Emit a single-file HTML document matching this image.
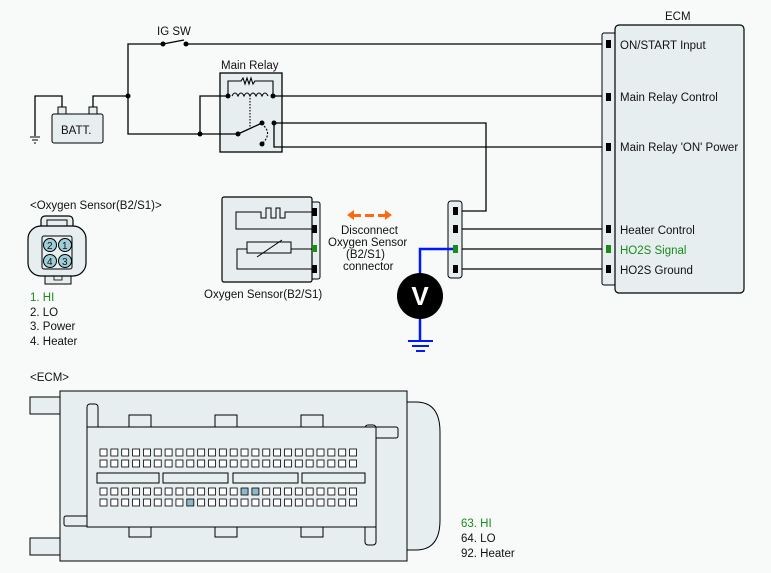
<!DOCTYPE html>
<html><head><meta charset="utf-8"><style>
html,body{margin:0;padding:0;background:#f8fafa}
svg{display:block}
text{font-family:"Liberation Sans",sans-serif;font-size:11.5px;fill:#111}
</style></head><body>
<svg id="s" width="771" height="573" viewBox="0 0 771 573" xmlns="http://www.w3.org/2000/svg">
<rect width="771" height="573" fill="#f8fafa"/>
<!-- relay box first -->
<text x="221" y="69">Main Relay</text>
<rect x="220" y="73" width="62" height="79" fill="#e6eef0" stroke="#000" stroke-width="1.3"/>
<g stroke="#000" stroke-width="1.3" fill="none">
<polyline points="128,96 128,44 163,44"/>
<line x1="163" y1="44" x2="184" y2="40"/>
<line x1="186" y1="44" x2="606" y2="44"/>
<polyline points="93,108 93,96 128,96 128,134 238,134"/>
<polyline points="200,134 200,96 228,96"/>
<polyline points="272,96 606,96"/>
<polyline points="62,108 62,96 35,96 35,136"/>
<line x1="238" y1="134" x2="262" y2="123"/>
<polyline points="274,123 486,123 486,211 455,211"/>
<polyline points="274,123 274,147 606,147"/>
<line x1="455" y1="229" x2="606" y2="229"/>
<line x1="455" y1="249" x2="606" y2="249"/>
<line x1="455" y1="269" x2="606" y2="269"/>
</g>
<g fill="#000">
<circle cx="128" cy="96" r="2.5"/><circle cx="163" cy="44" r="2.5"/><circle cx="186" cy="44" r="2.5"/>
<circle cx="200" cy="134" r="2.5"/>
</g>
<g stroke="#000" stroke-width="1"><line x1="30" y1="137" x2="40" y2="137"/><line x1="32" y1="140" x2="38" y2="140"/><line x1="34" y1="143" x2="36" y2="143"/></g>
<rect x="52" y="114" width="51" height="29" rx="2" fill="#e6eef0" stroke="#000"/>
<rect x="58" y="107" width="8" height="7" fill="#e6eef0" stroke="#000"/>
<rect x="89" y="107" width="8" height="7" fill="#e6eef0" stroke="#000"/>
<text x="61" y="134">BATT.</text>
<text x="157" y="35">IG SW</text>
<g stroke="#000" stroke-width="1.1" fill="none">
<polyline points="228,96 228,81 241,81 243,78 245,84 247,78 249,84 251,78 253,84 255,81 273,81 273,96"/>
<path d="M232,96 q3,-6 6,0 q3,-6 6,0 q3,-6 6,0 q3,-6 6,0 q3,-6 6,0 q3,-6 6,0"/>
<line x1="250" y1="98" x2="250" y2="128" stroke-dasharray="1.5,1.5"/>
<path d="M264,126 q8,8 -2,18" stroke-dasharray="2,1.5"/>
</g>
<g fill="#000"><circle cx="228" cy="96" r="2.5"/><circle cx="273" cy="96" r="2.5"/><circle cx="238" cy="134" r="2.5"/><circle cx="262" cy="123" r="2.5"/><circle cx="274" cy="123" r="2.5"/><circle cx="262" cy="144" r="2.5"/></g>
<!-- ECM -->
<text x="665" y="20">ECM</text>
<rect x="602" y="33" width="14" height="252" rx="2" fill="#e6eef0" stroke="#000"/>
<rect x="615" y="25" width="129" height="268" rx="4" fill="#e6eef0" stroke="#000" stroke-width="1.2"/>
<g fill="#000"><rect x="606" y="40" width="5" height="8"/><rect x="606" y="93" width="5" height="8"/><rect x="606" y="143" width="5" height="8"/><rect x="606" y="225" width="5" height="8"/><rect x="606" y="265" width="5" height="8"/></g>
<rect x="606" y="245" width="5" height="8" fill="#1a8a1a"/>
<text x="620" y="49">ON/START Input</text>
<text x="620" y="101">Main Relay Control</text>
<text x="620" y="151">Main Relay 'ON' Power</text>
<text x="620" y="234">Heater Control</text>
<text x="620" y="254" style="fill:#1a8a1a">HO2S  Signal</text>
<text x="620" y="274">HO2S  Ground</text>
<rect x="448" y="201" width="14" height="77" rx="3" fill="#e6eef0" stroke="#000"/>
<g fill="#000"><rect x="453" y="207" width="5" height="8"/><rect x="453" y="225" width="5" height="8"/><rect x="453" y="265" width="5" height="8"/></g>
<rect x="453" y="245" width="5" height="8" fill="#1a8a1a"/>
<polyline points="453,249 420,249 420,275" stroke="#0018ff" stroke-width="2.5" fill="none"/>
<line x1="420" y1="318" x2="420" y2="341" stroke="#0018ff" stroke-width="2.5"/>
<g stroke="#0018ff" stroke-width="2"><line x1="408" y1="341" x2="433" y2="341"/><line x1="412" y1="346" x2="429" y2="346"/><line x1="416" y1="351" x2="425" y2="351"/></g>
<circle cx="420" cy="296" r="23" fill="#000"/>
<text x="420" y="305" text-anchor="middle" style="font-size:26px;font-weight:bold;fill:#fff">V</text>
<!-- oxygen sensor -->
<rect x="311" y="202" width="9" height="77" rx="2" fill="#e6eef0" stroke="#000"/>
<rect x="222" y="197" width="90" height="85" rx="2" fill="#e6eef0" stroke="#000" stroke-width="1.2"/>
<g fill="#000"><rect x="312" y="208" width="5" height="8"/><rect x="312" y="225" width="5" height="8"/><rect x="312" y="265" width="5" height="8"/></g>
<rect x="312" y="245" width="5" height="7" fill="#1a8a1a"/>
<g stroke="#000" stroke-width="1" fill="none">
<polyline points="312,212 285,212 285,218 280,218 280,208 276,208 276,218 271,218 271,208 266,208 266,218 261,218 261,212 236,212 236,229 312,229"/>
<polyline points="312,249 291,249"/>
<rect x="247" y="242" width="44" height="11"/>
<polyline points="247,249 237,249 237,269 312,269"/>
<line x1="257" y1="257" x2="282" y2="240"/>
</g>
<text x="204" y="298">Oxygen Sensor(B2/S1)</text>
<g fill="#ff6a10"><polygon points="347,215 354,210 354,214 361,214 361,217 354,217 354,220"/><polygon points="392,215 385,210 385,214 378,214 378,217 385,217 385,220"/><rect x="365" y="214" width="9" height="3"/></g>
<text x="341" y="234">Disconnect</text>
<text x="328" y="246">Oxygen Sensor</text>
<text x="346" y="258">(B2/S1)</text>
<text x="343" y="270">connector</text>
<!-- left connector -->
<text x="30" y="209">&lt;Oxygen Sensor(B2/S1)&gt;</text>
<rect x="45" y="274" width="26" height="10" fill="#e6eef0" stroke="#000"/>
<rect x="54" y="276" width="8" height="4" fill="none" stroke="#000" stroke-width="0.8"/>
<rect x="41" y="216" width="32" height="16" rx="4" fill="#e6eef0" stroke="#000" stroke-width="1.2"/>
<rect x="28" y="226" width="58" height="50" rx="13" fill="#e6eef0" stroke="#000" stroke-width="1.2"/>
<rect x="47" y="220" width="20" height="6" fill="none" stroke="#000"/>
<rect x="42" y="236" width="30" height="33" rx="2" fill="none" stroke="#000"/>
<g fill="#9fcdd8" stroke="#000"><circle cx="50" cy="245" r="6.5"/><circle cx="65" cy="245" r="6.5"/><circle cx="50" cy="261" r="6.5"/><circle cx="65" cy="261" r="6.5"/></g>
<text x="47" y="249" style="font-size:10px">2</text><text x="62" y="249" style="font-size:10px">1</text><text x="47" y="265" style="font-size:10px">4</text><text x="62" y="265" style="font-size:10px">3</text>
<text x="30" y="301" style="fill:#1a8a1a">1. HI</text>
<text x="30" y="316">2. LO</text>
<text x="30" y="330">3. Power</text>
<text x="30" y="345">4. Heater</text>
<!-- bottom ECM -->
<text x="30" y="381">&lt;ECM&gt;</text>
<g fill="#e6eef0" stroke="#000" stroke-width="1">
<rect x="30" y="397" width="32" height="17"/>
<rect x="30" y="538" width="32" height="17"/>
<path d="M406,402 h10 q24,0 24,30 v88 q0,30 -24,30 h-10 z"/>
<rect x="60" y="391" width="347" height="170"/>
<rect x="87" y="404" width="11" height="120" rx="3"/>
<rect x="365" y="425" width="11" height="120" rx="3"/>
<rect x="64" y="516" width="30" height="10" rx="2"/>
<rect x="370" y="427" width="28" height="11" rx="2"/>
<rect x="129" y="415" width="22" height="14"/><rect x="215" y="415" width="22" height="14"/><rect x="301" y="415" width="22" height="14"/>
<rect x="129" y="523" width="22" height="14"/><rect x="215" y="523" width="22" height="14"/><rect x="301" y="523" width="22" height="14"/>
<rect x="87" y="427" width="289" height="100"/>
<rect x="97" y="473" width="62" height="10"/><rect x="163" y="473" width="65" height="10"/><rect x="233" y="473" width="65" height="10"/><rect x="302" y="473" width="63" height="10"/>
</g>
<g id="pins" fill="#fff" stroke="#000" stroke-width="0.8"></g>
<text x="461" y="527" style="fill:#1a8a1a">63. HI</text>
<text x="461" y="542">64. LO</text>
<text x="461" y="557">92. Heater</text>
</svg>
<script>
var g=document.getElementById('pins'),ns='http://www.w3.org/2000/svg';
[449,460,488,499].forEach(function(y,r){for(var i=0;i<24;i++){var e=document.createElementNS(ns,'rect');var x=100+i*10.85;e.setAttribute('x',x);e.setAttribute('y',y);e.setAttribute('width',7);e.setAttribute('height',7);
if((r==2&&(i==13||i==14))||(r==3&&i==8))e.setAttribute('fill','#8fb8c8');g.appendChild(e);}});
</script>
</body></html>
